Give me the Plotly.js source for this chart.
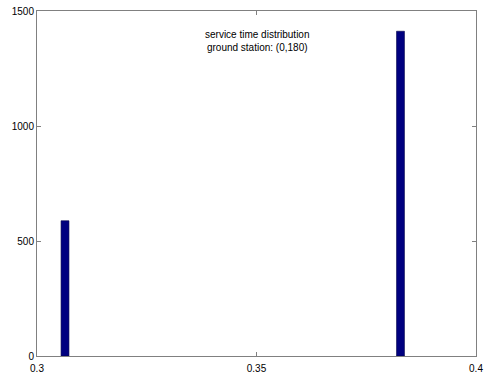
<!DOCTYPE html>
<html>
<head>
<meta charset="utf-8">
<script src="https://cdn.plot.ly/plotly-3.0.1.min.js"></script>
<style>
  html, body { margin: 0; padding: 0; background: #fff; }
  #chart { width: 484px; height: 377px; }
</style>
</head>
<body>
<div id="chart"></div>
<script>
// Histogram of service times (bin centres and counts)
const binCenters = [0.30638, 0.3828];
const counts = [588, 1412];
const xTicks = [0.3, 0.35, 0.4];
const xTickLabels = ["0.3", "0.35", "0.4"];
const yTicks = [0, 500, 1000, 1500];
const titleLines = ["service time distribution", "ground station: (0,180)"];

const axisFont = { family: "Liberation Sans, Arial, sans-serif", size: 10, color: "#000" };

const trace = {
  type: "bar",
  x: binCenters,
  y: counts,
  width: 0.0018,
  marker: { color: "#000080", line: { color: "#00004a", width: 0.6 } },
  hoverinfo: "x+y"
};

const layout = {
  width: 484,
  height: 377,
  margin: { l: 37, r: 8, t: 11, b: 21, pad: 0 },
  paper_bgcolor: "#fff",
  plot_bgcolor: "#fff",
  showlegend: false,
  font: axisFont,
  xaxis: {
    range: [0.3, 0.4],
    tickvals: xTicks,
    ticktext: xTickLabels,
    ticks: "inside",
    ticklen: 4,
    tickcolor: "#808080",
    showline: true,
    linecolor: "#808080",
    linewidth: 1,
    mirror: "ticks",
    showgrid: false,
    zeroline: false,
    ticklabelstandoff: 3,
    tickfont: axisFont
  },
  yaxis: {
    range: [0, 1500],
    tickvals: yTicks,
    ticks: "inside",
    ticklen: 4,
    tickcolor: "#808080",
    showline: true,
    linecolor: "#808080",
    linewidth: 1,
    mirror: "ticks",
    showgrid: false,
    zeroline: false,
    tickfont: axisFont
  },
  annotations: [{
    xref: "paper", yref: "paper",
    x: 0.5, y: 0.955,
    xanchor: "center", yanchor: "top",
    text: titleLines.join("<br>"),
    showarrow: false,
    font: axisFont,
    align: "center"
  }]
};

Plotly.newPlot("chart", [trace], layout, { displayModeBar: false, staticPlot: true });
</script>
</body>
</html>
